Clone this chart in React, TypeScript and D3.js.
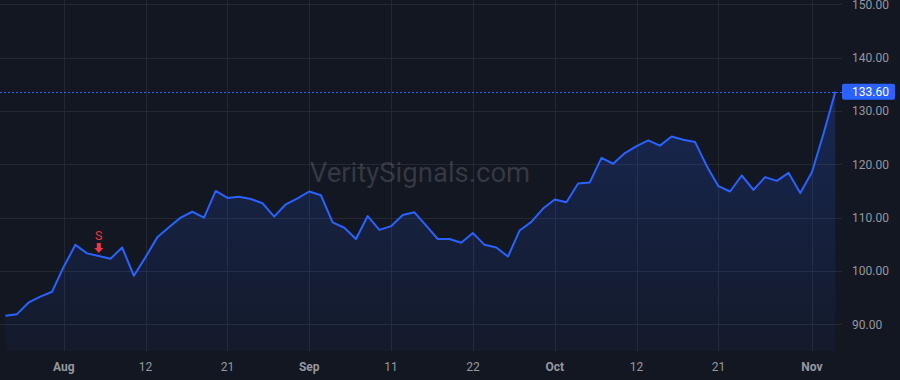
import React from "react";
import * as d3 from "d3";

const prices = [
	91.6, 91.9, 94.1, 95.2, 96.1, 100.8, 104.9, 103.3, 102.8, 102.3, 104.4, 99.1,
	102.6, 106.3, 108.2, 110.0, 111.1, 110.0, 115.0, 113.7, 113.9, 113.5, 112.7,
	110.2, 112.5, 113.6, 114.9, 114.2, 109.1, 108.1, 106.0, 110.3, 107.7, 108.4,
	110.5, 111.0, 108.5, 106.0, 106.0, 105.3, 107.1, 104.9, 104.4, 102.7, 107.6,
	109.2, 111.7, 113.4, 112.9, 116.4, 116.6, 121.2, 120.1, 122.1, 123.4, 124.5,
	123.5, 125.2, 124.6, 124.2, 119.7, 115.9, 114.9, 117.9, 115.2, 117.6, 116.9,
	118.4, 114.6, 118.5, 125.8, 133.6,
];

const tickIndex = [5, 12, 19, 26, 33, 40, 47, 54, 61, 69];
const tickLabels = ["Aug", "12", "21", "Sep", "11", "22", "Oct", "12", "21", "Nov"];
const monthLabels = ["Aug", "Sep", "Oct", "Nov"];

const priceTicks = [90, 100, 110, 120, 130, 140, 150];

const signalIndex = [8];
const signalLabels = ["S"];

const W = 900;
const H = 380;
const paneRight = 842;
const paneBottom = 351;

const BG = "#131722";
const GRID = "#242833";
const BLUE = "#2962FF";
const RED = "#F23645";
const TEXT = "#9598a1";
const FONT = "Roboto, 'Liberation Sans', sans-serif";

export default function App() {
	const x = d3.scaleLinear().domain([0, prices.length - 1]).range([5.3, 835.3]);
	const y = d3.scaleLinear().domain([90, 150]).range([324.3, 4.3]);

	const line = d3
		.line<number>()
		.x((_, i) => x(i))
		.y((d) => y(d));
	const area = d3
		.area<number>()
		.x((_, i) => x(i))
		.y0(paneBottom)
		.y1((d) => y(d));

	const last = prices[prices.length - 1];
	const lastY = y(last);
	const topY = y(d3.max(prices) as number);

	return (
		<svg
			width={W}
			height={H}
			style={{ position: "absolute", left: 0, top: 0, display: "block" }}
		>
			<defs>
				<linearGradient
					id="fill"
					gradientUnits="userSpaceOnUse"
					x1={0}
					x2={0}
					y1={topY}
					y2={paneBottom}
				>
					<stop offset="0%" stopColor={BLUE} stopOpacity={0.22} />
					<stop offset="100%" stopColor={BLUE} stopOpacity={0.04} />
				</linearGradient>
			</defs>
			<rect x={0} y={0} width={W} height={H} fill={BG} />

			{/* grid */}
			{priceTicks.map((t) => (
				<line
					key={"h" + t}
					x1={0}
					x2={paneRight}
					y1={Math.round(y(t)) + 0.5}
					y2={Math.round(y(t)) + 0.5}
					stroke={GRID}
					strokeWidth={1}
				/>
			))}
			{tickIndex.map((t) => (
				<line
					key={"v" + t}
					x1={Math.round(x(t)) + 0.5}
					x2={Math.round(x(t)) + 0.5}
					y1={0}
					y2={paneBottom}
					stroke={GRID}
					strokeWidth={1}
				/>
			))}

			{/* watermark */}
			<text
				x={420}
				y={182}
				textAnchor="middle"
				fontFamily={FONT}
				fontSize={27.5}
				fill="rgba(178,181,190,0.22)"
			>
				VeritySignals.com
			</text>

			{/* series */}
			<path d={area(prices) ?? ""} fill="url(#fill)" />
			<path
				d={line(prices) ?? ""}
				fill="none"
				stroke={BLUE}
				strokeWidth={2}
				strokeLinejoin="round"
			/>

			{/* last price line */}
			<line
				x1={0}
				x2={paneRight}
				y1={Math.round(lastY) + 0.5}
				y2={Math.round(lastY) + 0.5}
				stroke={BLUE}
				strokeWidth={1}
				strokeDasharray="2,2"
			/>

			{/* signals */}
			{signalIndex.map((si, k) => {
				const cx = x(si);
				const tip = y(prices[si]) - 3;
				return (
					<g key={"s" + si} fill={RED}>
						<path
							d={`M${cx - 2},${tip - 10} L${cx + 2},${tip - 10} L${cx + 2},${tip - 5} L${cx + 4.5},${tip - 5} L${cx},${tip} L${cx - 4.5},${tip - 5} L${cx - 2},${tip - 5} Z`}
						/>
						<text
							x={cx}
							y={tip - 13}
							textAnchor="middle"
							fontFamily={FONT}
							fontSize={12.5}
						>
							{signalLabels[k]}
						</text>
					</g>
				);
			})}

			{/* price axis */}
			{priceTicks.map((t) => (
				<text
					key={"pl" + t}
					x={852}
					y={y(t)}
					dy="0.35em"
					fontFamily={FONT}
					fontSize={12}
					fill={TEXT}
				>
					{t.toFixed(2)}
				</text>
			))}
			<rect x={842} y={lastY - 8} width={53} height={16} rx={2} fill={BLUE} />
			<text
				x={852}
				y={lastY}
				dy="0.35em"
				fontFamily={FONT}
				fontSize={12}
				fill="#ffffff"
			>
				{last.toFixed(2)}
			</text>

			{/* time axis */}
			{tickIndex.map((t, i) => (
				<text
					key={"tl" + t}
					x={x(t)}
					y={371}
					textAnchor="middle"
					fontFamily={FONT}
					fontSize={12}
					fontWeight={monthLabels.includes(tickLabels[i]) ? 700 : 400}
					fill={TEXT}
				>
					{tickLabels[i]}
				</text>
			))}
		</svg>
	);
}
